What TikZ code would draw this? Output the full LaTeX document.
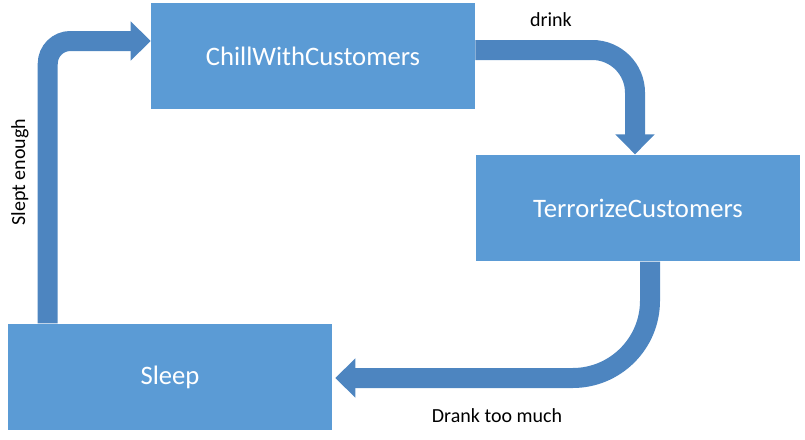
\documentclass[tikz,border=0pt]{standalone}
\usepackage{fontspec}
\setmainfont{Carlito}
\usepackage{tikz}
\usetikzlibrary{arrows.meta}
\usetikzlibrary{calc}
\definecolor{boxblue}{HTML}{5B9BD5}
\definecolor{arrowblue}{HTML}{4D85C0}
\tikzset{state/.style={fill=boxblue, text=white, minimum width=243pt, minimum height=80pt, inner sep=0pt, font=\fontsize{20}{24}\selectfont}}
\tikzset{trans/.style={draw=arrowblue, line width=15pt, -{Triangle[width=28.5pt,length=15pt]}, arrowblue}}
\tikzset{translabel/.style={font=\fontsize{15}{18}\selectfont, inner sep=0pt}}

\begin{document}
\begin{tikzpicture}[x=0.75pt,y=-0.75pt]
\useasboundingbox (0,0) rectangle (805,439);
%states
\node[state] (chill) at (313,56) {ChillWithCustomers};
\node[state] (terror) at (638,208) {TerrorizeCustomers};
\node[state] (sleep) at (170,377) {Sleep};
%transitions
\draw[trans, rounded corners=17pt] ($(sleep.north west)+(40,0)$) |- ($(chill.west)+(0,-15)$);
\draw[trans, rounded corners=32pt] ($(chill.east)+(0,-6)$) -| ($(terror.north)+(-3,0)$);
\draw[trans, rounded corners=58pt] ($(terror.south)+(12,0)$) |- ($(sleep.east)+(3,1)$);
%labels
\node[translabel, rotate=90] (slept) at (20,172) {Slept enough};
\node[translabel] (drink) at (551,20) {drink};
\node[translabel] (drank) at (497,416) {Drank too much};
\end{tikzpicture}
\end{document}
